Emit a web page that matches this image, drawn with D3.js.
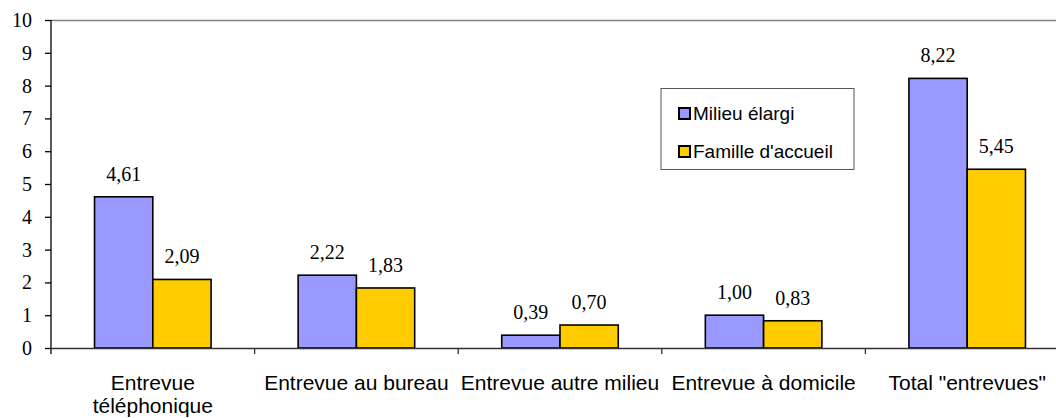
<!DOCTYPE html>
<html><head><meta charset="utf-8">
<script src="https://cdn.jsdelivr.net/npm/d3@7"></script>
<style>body{margin:0;background:#fff}svg{display:block}</style>
</head><body>
<script>
const categories = ["Entrevue|téléphonique", "Entrevue au bureau", "Entrevue autre milieu", "Entrevue à domicile", "Total \"entrevues\""];
const seriesNames = ["Milieu élargi", "Famille d'accueil"];
const milieuElargi = [4.61, 2.22, 0.39, 1.00, 8.22];
const familleAccueil = [2.09, 1.83, 0.70, 0.83, 5.45];
const yTicks = [0,1,2,3,4,5,6,7,8,9,10];
const colors = ["#9999FF", "#FFCC00"];

const W = 1056, H = 418;
const pLeft = 51, pRight = 1069, pTop = 20, pBottom = 348;
const svg = d3.select("body").append("svg").attr("width", W).attr("height", H);

const x = d3.scaleBand().domain(categories).range([pLeft, pRight]).padding(0);
const xs = d3.scaleBand().domain(seriesNames).range([0, x.bandwidth()]).paddingInner(0).paddingOuter(0.747);
const y = d3.scaleLinear().domain([0, 10]).range([pBottom, pTop]);

// top border
svg.append("line").attr("x1", pLeft).attr("x2", pRight).attr("y1", pTop + 0.5).attr("y2", pTop + 0.5)
  .attr("stroke", "#808080").attr("stroke-width", 1.5);

const data = categories.map((c, i) => ({cat: c, vals: [milieuElargi[i], familleAccueil[i]]}));

const g = svg.selectAll("g.cat").data(data).enter().append("g").attr("class", "cat")
  .attr("transform", d => `translate(${x(d.cat)},0)`);
g.selectAll("rect").data(d => d.vals.map((v, k) => ({v, s: seriesNames[k], k}))).enter().append("rect")
  .attr("x", d => xs(d.s)).attr("width", xs.bandwidth())
  .attr("y", d => y(d.v)).attr("height", d => y(0) - y(d.v))
  .attr("fill", d => colors[d.k]).attr("stroke", "#000").attr("stroke-width", 1.6);
g.selectAll("text.val").data(d => d.vals.map((v, k) => ({v, s: seriesNames[k]}))).enter().append("text")
  .attr("class", "val")
  .attr("x", d => xs(d.s) + xs.bandwidth() / 2).attr("y", d => y(d.v) - 16)
  .attr("text-anchor", "middle").attr("font-family", "Liberation Serif, Times New Roman, serif")
  .attr("font-size", 20).attr("fill", "#000")
  .text(d => d3.format(".2f")(d.v).replace(".", ","));

// y axis
const yAxis = d3.axisLeft(y).tickValues(yTicks).tickSize(6).tickPadding(13).tickFormat(d3.format("d"));
const ya = svg.append("g").attr("transform", `translate(${pLeft},0)`).call(yAxis);
ya.select(".domain").attr("stroke", "#000").attr("stroke-width", 1.3).attr("d", `M0,${pTop}V${pBottom + 6}`);
ya.selectAll(".tick line").attr("stroke", "#000").attr("stroke-width", 1.3);
ya.selectAll(".tick text").attr("font-family", "Liberation Serif, Times New Roman, serif").attr("font-size", 20).attr("fill", "#000");

// x axis
const xAxis = d3.axisBottom(x).tickSize(0).tickPadding(0).tickFormat("");
const xa = svg.append("g").attr("transform", `translate(0,${pBottom})`).call(xAxis);
xa.select(".domain").attr("stroke", "#333").attr("stroke-width", 1.3);
xa.selectAll(".tick").remove();
const bounds = categories.map(c => x(c)).concat([x(categories[categories.length - 1]) + x.bandwidth()]);
xa.selectAll("line.b").data(bounds.slice(1)).enter().append("line").attr("class", "b")
  .attr("x1", d => d).attr("x2", d => d).attr("y1", 0).attr("y2", 6)
  .attr("stroke", "#333").attr("stroke-width", 1.3);
categories.forEach(c => {
  const lines = c.split("|");
  const t = svg.append("text").attr("text-anchor", "middle")
    .attr("font-family", "Liberation Sans, Arial, sans-serif").attr("font-size", 21).attr("fill", "#000");
  lines.forEach((l, i) => t.append("tspan").attr("x", x(c) + x.bandwidth() / 2).attr("y", 390 + i * 23).text(l));
});

// legend
const lg = svg.append("g");
lg.append("rect").attr("x", 661).attr("y", 88.5).attr("width", 193).attr("height", 81)
  .attr("fill", "#fff").attr("stroke", "#555").attr("stroke-width", 1);
seriesNames.forEach((s, i) => {
  const yy = 108 + i * 38;
  lg.append("rect").attr("x", 679).attr("y", yy).attr("width", 11).attr("height", 11)
    .attr("fill", colors[i]).attr("stroke", "#000").attr("stroke-width", 2);
  lg.append("text").attr("x", 693).attr("y", yy + 12).attr("font-family", "Liberation Sans, Arial, sans-serif")
    .attr("font-size", 19).attr("fill", "#000").text(s);
});
</script>
</body></html>
